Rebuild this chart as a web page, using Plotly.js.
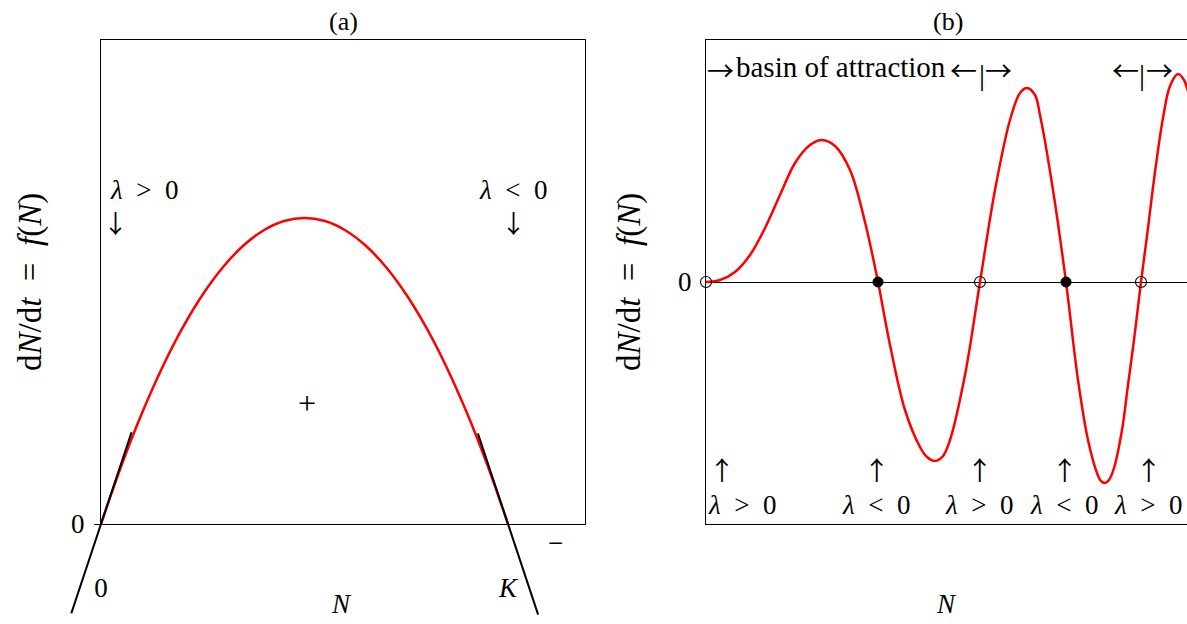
<!DOCTYPE html>
<html>
<head>
<meta charset="utf-8">
<script src="https://cdn.plot.ly/plotly-3.0.1.min.js"></script>
<style>
  html, body { margin: 0; padding: 0; background: #fff; }
  #chart { width: 1187px; height: 624px; }
</style>
</head>
<body>
<div id="chart"></div>
<script>
// (a) logistic growth f(N) = rN(1 - N/K), with r = 1, K = 1
const logisticN = [0, 0.05, 0.1, 0.15, 0.2, 0.25, 0.3, 0.35, 0.4, 0.45, 0.5,
                   0.55, 0.6, 0.65, 0.7, 0.75, 0.8, 0.85, 0.9, 0.95, 1.0];
const logisticF = [0, 0.0475, 0.09, 0.1275, 0.16, 0.1875, 0.21, 0.2275, 0.24, 0.2475, 0.25,
                   0.2475, 0.24, 0.2275, 0.21, 0.1875, 0.16, 0.1275, 0.09, 0.0475, 0];

// linearisations at the two equilibria
const tangentZeroN = [-0.073, 0.075];
const tangentZeroF = [-0.073, 0.075];
const tangentKN = [0.926, 1.074];
const tangentKF = [0.074, -0.074];

// (b) a growth function with several equilibria
const multiN = [0, 0.14, 0.29, 0.44, 0.59, 0.74, 0.89, 1.04, 1.16, 1.29, 1.44, 1.59, 1.72,
                1.84, 1.99, 2.14, 2.21, 2.29, 2.37, 2.44, 2.59, 2.74, 2.89, 3.04, 3.14, 3.21, 3.29,
                3.34, 3.47, 3.60, 3.72, 3.82, 3.91, 3.95, 3.99, 4.03, 4.08, 4.16, 4.22, 4.28, 4.35,
                4.41, 4.49, 4.57, 4.64, 4.72, 4.78, 4.84];
const multiF = [0, 0.02, 0.10, 0.27, 0.54, 0.87, 1.19, 1.37, 1.42, 1.36, 1.12, 0.60, 0,
                -0.63, -1.28, -1.65, -1.75, -1.79, -1.74, -1.58, -0.93, 0, 0.92, 1.62, 1.89, 1.94, 1.87,
                1.67, 0.92, 0, -0.98, -1.58, -1.91, -1.99, -2.01, -1.98, -1.86, -1.48, -1.03, -0.58, 0,
                0.46, 1.10, 1.64, 1.96, 2.08, 2.02, 1.82];
const stableEq = [1.72, 3.60];
const unstableEq = [0, 2.74, 4.35];

const W = 1187, H = 624;
const FONT = 'Liberation Serif, Times New Roman, serif';
const ARROW_FONT = 'Noto Sans CJK JP';
const px = x => x / W;          // pixel -> paper x
const py = y => 1 - y / H;      // pixel -> paper y

const RED = '#ff0000';

const traces = [
  { x: logisticN, y: logisticF, xaxis: 'x', yaxis: 'y', mode: 'lines',
    line: { color: RED, width: 2.5, shape: 'spline', smoothing: 1 }, hoverinfo: 'skip' },
  { x: tangentZeroN, y: tangentZeroF, xaxis: 'x3', yaxis: 'y3', mode: 'lines',
    line: { color: '#000', width: 2 }, hoverinfo: 'skip' },
  { x: tangentKN, y: tangentKF, xaxis: 'x3', yaxis: 'y3', mode: 'lines',
    line: { color: '#000', width: 2 }, hoverinfo: 'skip' },
  { x: multiN, y: multiF, xaxis: 'x2', yaxis: 'y2', mode: 'lines',
    line: { color: RED, width: 2.5, shape: 'spline', smoothing: 1 }, hoverinfo: 'skip' },
  { x: stableEq, y: stableEq.map(() => 0), xaxis: 'x2', yaxis: 'y2', mode: 'markers',
    cliponaxis: false,
    marker: { symbol: 'circle', size: 10, color: '#000', line: { color: '#000', width: 1 } }, hoverinfo: 'skip' },
  { x: unstableEq, y: unstableEq.map(() => 0), xaxis: 'x2', yaxis: 'y2', mode: 'markers',
    cliponaxis: false,
    marker: { symbol: 'circle-open', size: 11, color: '#000', line: { color: '#000', width: 1.1 } }, hoverinfo: 'skip' }
];

const txt = (text, x, y, opts = {}) => Object.assign({
  text, x: px(x), y: py(y), xref: 'paper', yref: 'paper', showarrow: false,
  xanchor: 'center', yanchor: 'middle', font: { family: FONT, size: 27, color: '#000' }
}, opts);

// glyph arrows set in a font whose arrows are thin and tall
const arrowSpan = (glyph, size = 26) =>
  `<span style="font-family:${ARROW_FONT};font-size:${size}px">${glyph}</span>`;
const big = s => `<span style="font-size:27px">${s}</span>`;
const arrowGlyph = (glyph, x, y, size = 27) =>
  txt(arrowSpan(glyph, size), x, y, { font: { family: FONT, size: 20, color: '#000' } });

const gt = '<i>λ</i>\u2002>\u20020', lt = '<i>λ</i>\u2002<\u20020';
const DOWN = '\u2193', UP = '\u2191', LEFT = '\u2190', RIGHT = '\u2192';

// stacked label: base size sets the line pitch, spans set the glyph size
const stack = (lines, x, y, pitch, opts = {}) =>
  txt(lines.join('<br>'), x, y, Object.assign({ font: { family: FONT, size: pitch / 1.3, color: '#000' } }, opts));

const titleFont = { family: FONT, size: 33, color: '#000' };
const yTitle = 'd<i>N</i>/d<i>t</i>\u2002=\u2002<i>f</i>(<i>N</i>)';

const annotations = [
  txt('(a)', 343, 22, { font: { family: FONT, size: 26, color: '#000' } }),
  txt('(b)', 948, 22, { font: { family: FONT, size: 26, color: '#000' } }),
  // axis titles
  txt(yTitle, 31, 282, { textangle: -90, font: titleFont }),
  txt(yTitle, 630, 282, { textangle: -90, font: titleFont }),
  txt('<i>N</i>', 341, 604),
  txt('<i>N</i>', 946, 604),
  // panel (a)
  txt(gt, 108, 190, { xanchor: 'left' }),
  arrowGlyph(DOWN, 115, 222, 25),
  txt(lt, 513, 190),
  arrowGlyph(DOWN, 513, 222, 25),
  txt('+', 307, 403, { font: { family: FONT, size: 32, color: '#000' } }),
  txt('\u2212', 555, 543),
  // panel (b), top
  arrowGlyph(RIGHT, 720, 69),
  txt('basin of attraction', 734, 67, { xanchor: 'left', font: { family: FONT, size: 29, color: '#000' } }),
  arrowGlyph(LEFT, 963, 69),
  txt('|', 982, 74, { font: { family: FONT, size: 30, color: '#000' } }),
  arrowGlyph(RIGHT, 999, 69),
  arrowGlyph(LEFT, 1125, 69),
  txt('|', 1142, 74, { font: { family: FONT, size: 30, color: '#000' } }),
  arrowGlyph(RIGHT, 1159, 69),
  // panel (b), bottom
  stack([arrowSpan(UP), big(gt)], 706, 485, 34, { xanchor: 'left', align: 'left' }),
  stack([arrowSpan(UP), big(lt)], 876, 485, 34),
  stack([arrowSpan(UP), big(gt)], 979, 485, 34),
  stack([arrowSpan(UP), big(lt)], 1064, 485, 34),
  stack([arrowSpan(UP), big(gt)], 1148, 485, 34)
];

const axisFont = { family: FONT, size: 27, color: '#000' };
const yDom = [100 / H, 584 / H];

const layout = {
  width: W, height: H,
  margin: { l: 0, r: 0, t: 0, b: 0 },
  paper_bgcolor: '#fff', plot_bgcolor: 'rgba(0,0,0,0)',
  showlegend: false,
  font: { family: FONT, color: '#000' },
  xaxis: {
    domain: [101 / W, 585 / W], range: [0, 484 / 407], anchor: 'y',
    showgrid: false, zeroline: false, showline: true, mirror: true,
    linecolor: '#000', linewidth: 1,
    tickmode: 'array', tickvals: [0, 1], ticktext: ['0', '<i>K</i>'],
    ticks: '', ticklabelstandoff: 40, tickfont: axisFont
  },
  yaxis: {
    domain: yDom, range: [0, 484 / 1224], anchor: 'x',
    showgrid: false, zeroline: false, showline: true, mirror: true,
    linecolor: '#000', linewidth: 1,
    tickmode: 'array', tickvals: [0], ticktext: ['0'],
    ticks: 'outside', ticklen: 6, tickcolor: '#000', tickwidth: 1,
    ticklabelstandoff: 4, tickfont: axisFont
  },
  // overlay frame used for the linearisations, which run past the box
  xaxis3: {
    domain: [0, 585 / W], range: [-101 / 407, 484 / 407], anchor: 'y3',
    visible: false, showgrid: false, zeroline: false
  },
  yaxis3: {
    domain: [0, 584 / H], range: [-100 / 1224, 484 / 1224], anchor: 'x3',
    visible: false, showgrid: false, zeroline: false
  },
  xaxis2: {
    domain: [706 / W, 1], range: [0, 4.81], anchor: 'y2',
    showgrid: false, zeroline: false, showline: true, mirror: true,
    linecolor: '#000', linewidth: 1, showticklabels: false, ticks: ''
  },
  yaxis2: {
    domain: yDom, range: [-2.42, 2.42], anchor: 'x2',
    showgrid: false, showline: true, mirror: false,
    linecolor: '#000', linewidth: 1,
    zeroline: true, zerolinecolor: '#000', zerolinewidth: 1,
    tickmode: 'array', tickvals: [0], ticktext: ['0'],
    ticks: '', ticklabelstandoff: 8, tickfont: axisFont
  },
  annotations
};

Plotly.newPlot('chart', traces, layout, { staticPlot: true, displayModeBar: false });
</script>
</body>
</html>
